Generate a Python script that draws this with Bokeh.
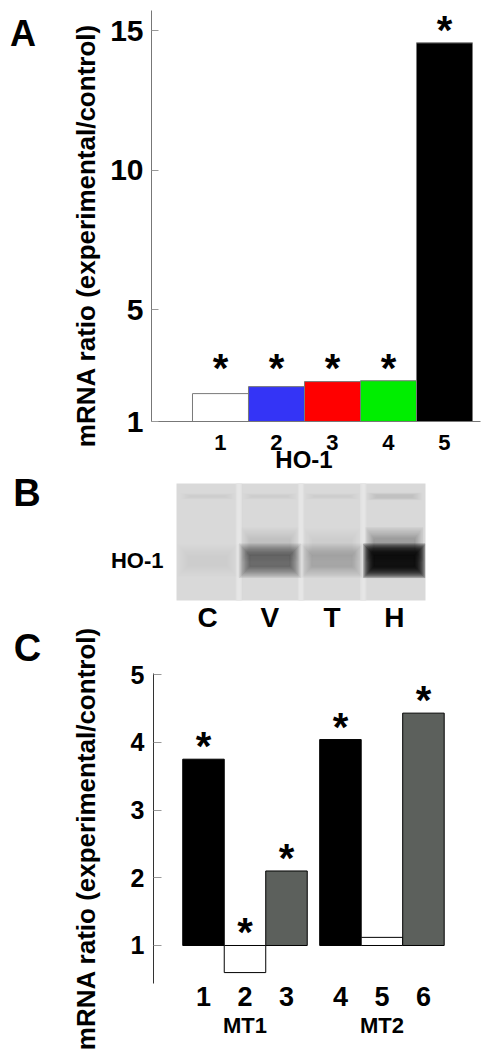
import math
from bokeh.plotting import figure
from bokeh.layouts import column, row
from bokeh.models import FixedTicker, LinearAxis
from bokeh.core.properties import value
from bokeh.embed import file_html
from bokeh.resources import INLINE

FONT = "Liberation Sans"

# ---------------- data ----------------
# Panel A: HO-1 mRNA ratio
a_labels = ["1", "2", "3", "4", "5"]
a_values = [2.0, 2.25, 2.43, 2.46, 14.57]
a_colors = ["#ffffff", "#3434f6", "#ff0000", "#00ee00", "#000000"]
a_sig = [True, True, True, True, True]
a_yticks = [1, 5, 10, 15]
a_gene = "HO-1"

# Panel B: gel (lanes and band darkness)
b_lanes = ["C", "V", "T", "H"]
b_band = [0.05, 0.50, 0.20, 0.92]
b_smear = [0.0, 0.11, 0.05, 0.24]
b_top_band = [0.05, 0.06, 0.06, 0.07]
b_label = "HO-1"

# Panel C: MT1 / MT2 mRNA ratio
c_groups = ["MT1", "MT2"]
c_labels = ["1", "2", "3", "4", "5", "6"]
c_values = [3.75, 0.60, 2.10, 4.04, 1.12, 4.43]
c_colors = ["#000000", "#ffffff", "#5c605c", "#000000", "#ffffff", "#5c605c"]
c_sig = [True, True, True, True, False, True]
c_yticks = [1, 2, 3, 4, 5]

panel_letters = ["A", "B", "C"]
ylab = "mRNA ratio (experimental/control)"

PAGE_W, PAGE_H = 500, 1052
SIDE_W = 106
W = PAGE_W - SIDE_W


def mapx(R, fl, fr, x0, x1):
    return x0 + (R - fl) * (x1 - x0) / (fr - fl)


def style_common(p):
    p.outline_line_color = None
    p.grid.visible = False
    p.background_fill_color = "white"
    p.border_fill_color = "white"
    if "frame_align" in p.properties():
        p.frame_align = False


def bold_axis_labels(ax, size, standoff):
    ax.major_label_text_font = FONT
    ax.major_label_text_font_style = "bold"
    ax.major_label_text_font_size = size
    ax.major_label_text_color = "black"
    ax.major_label_standoff = standoff


def bare_axis(ax):
    ax.axis_line_color = None
    ax.major_tick_line_color = None
    ax.minor_tick_line_color = None


H_A, H_B = 476, 169
H_C = PAGE_H - H_A - H_B
B_TOP, C_TOP = H_A, H_A + H_B

# ---------------- side strip (panel letters and y titles) ----------------
side = figure(width=SIDE_W, height=PAGE_H, x_range=(0, SIDE_W), y_range=(PAGE_H, 0),
              output_backend="svg", toolbar_location=None, min_border=0,
              x_axis_location=None, y_axis_location=None)
style_common(side)
for letter, (lx, ly, fs) in zip(panel_letters, [(22.5, 33, "36px"), (26.5, 492, "38px"), (27, 647, "38px")]):
    side.text(x=[lx], y=[ly], text=[letter], text_font=value(FONT), text_font_style="bold",
              text_font_size=fs, text_align="center", text_baseline="middle", text_color="black")
side.text(x=[85, 85], y=[235, 838], text=[ylab, ylab], angle=math.pi / 2,
          text_font=value(FONT), text_font_style="bold", text_font_size="26px",
          text_align="center", text_baseline="middle", text_color="black")

# ---------------- Panel A ----------------
ax0, ax1 = -0.232, 5.643
ay0, ay1 = 1.0, 15.73
pa = figure(width=W, height=H_A, x_range=(ax0, ax1), y_range=(ay0, ay1),
            output_backend="svg", toolbar_location=None,
            min_border_left=151 - SIDE_W, min_border_right=W - (480 - SIDE_W),
            min_border_top=10, min_border_bottom=H_A - 421)
style_common(pa)
a_x = [i + 1 for i in range(len(a_values))]
pa.vbar(x=a_x, top=a_values, bottom=1, width=1.0, fill_color=a_colors,
        line_color="#7a7a7a", line_width=1)
a_star_base = [max(a_values[:4])] * 4 + [a_values[4]]
sx = [x for x, s in zip(a_x, a_sig) if s]
sy = [y for y, s in zip(a_star_base, a_sig) if s]
pa.text(x=sx, y=sy, text=["*"] * len(sx), text_font=value(FONT), text_font_style="bold",
        text_font_size="40px", text_align="center", text_baseline="alphabetic", y_offset=-13,
        text_color="black")

pa.yaxis.ticker = FixedTicker(ticks=a_yticks)
pa.yaxis.minor_tick_line_color = None
pa.yaxis.major_tick_in = 7
pa.yaxis.major_tick_out = 0
pa.yaxis.major_tick_line_color = "#999999"
pa.yaxis.axis_line_color = "#777777"
bold_axis_labels(pa.yaxis, "30px", 8)

pa.xaxis.ticker = FixedTicker(ticks=a_x)
pa.xaxis.major_label_overrides = {x: l for x, l in zip(a_x, a_labels)}
pa.xaxis.minor_tick_line_color = None
pa.xaxis.major_tick_line_color = None
pa.xaxis.axis_line_color = "#777777"
bold_axis_labels(pa.xaxis, "22px", 7)

gene_x = round(mapx(303.5, 151, 480, ax0, ax1), 3)
ga = LinearAxis(ticker=FixedTicker(ticks=[gene_x]), major_label_overrides={gene_x: a_gene})
bare_axis(ga)
bold_axis_labels(ga, "24px", -13)
pa.add_layout(ga, "below")

# ---------------- Panel B ----------------
pb = figure(width=W, height=H_B, x_range=(0, 4), y_range=(0, 1),
            output_backend="svg", toolbar_location=None,
            min_border_left=176 - SIDE_W, min_border_right=W - (425 - SIDE_W),
            min_border_top=483 - B_TOP, min_border_bottom=H_B - (600 - B_TOP))
style_common(pb)
pb.background_fill_color = "#d9d9d9"
lane_x = [i + 0.5 for i in range(len(b_lanes))]
# light gaps between lanes
pb.vbar(x=[1, 2, 3], top=1, bottom=0, width=0.045, color="#e6e6e6")
pb.vbar(x=[1, 2, 3], top=1, bottom=0, width=0.09, color="#e6e6e6", alpha=0.5)
band_y = 0.34
n_layers = 12
a_top = [1 - (1 - k) ** (1.0 / n_layers) for k in b_top_band]
a_sm = [1 - (1 - k) ** (1.0 / n_layers) for k in b_smear]
a_bd = [1 - (1 - k) ** (1.0 / n_layers) for k in b_band]
for j in range(n_layers):
    s = 1.8 - 0.11 * j
    # faint upper band
    pb.rect(x=lane_x, y=0.89, width=0.8 * (1.12 - 0.035 * j), height=0.035 * s,
            color="black", alpha=a_top)
    # diffuse smear above main band
    pb.rect(x=lane_x, y=0.48, width=0.84 * (1.1 - 0.03 * j), height=0.16 * s,
            color="black", alpha=a_sm)
    # main band
    pb.rect(x=lane_x, y=band_y, width=0.9 * (1.1 - 0.035 * j), height=0.16 * s,
            color="black", alpha=a_bd)

pb.xaxis.ticker = FixedTicker(ticks=lane_x)
pb.xaxis.major_label_overrides = {x: l for x, l in zip(lane_x, b_lanes)}
bare_axis(pb.xaxis)
bold_axis_labels(pb.xaxis, "28px", -5)

pb.yaxis.ticker = FixedTicker(ticks=[band_y])
pb.yaxis.major_label_overrides = {band_y: b_label}
bare_axis(pb.yaxis)
bold_axis_labels(pb.yaxis, "22px", 7)

# ---------------- Panel C ----------------
cx0, cx1 = -0.2048, 7.434
cy0, cy1 = 0.439, 5.015
pc = figure(width=W, height=H_C, x_range=(cx0, cx1), y_range=(cy0, cy1),
            output_backend="svg", toolbar_location=None,
            min_border_left=153 - SIDE_W, min_border_right=W - (470 - SIDE_W),
            min_border_top=673 - C_TOP, min_border_bottom=H_C - (983 - C_TOP))
style_common(pc)
per_group = len(c_labels) // len(c_groups)
c_x = [round(1 + (i % per_group) + (i // per_group) * (per_group + 0.3), 2)
       for i in range(len(c_values))]
pc.vbar(x=c_x, top=c_values, bottom=1, width=1.0, fill_color=c_colors,
        line_color="black", line_width=1)
c_star_base = [max(v, 1.0) for v in c_values]
sx = [x for x, s in zip(c_x, c_sig) if s]
sy = [y for y, s in zip(c_star_base, c_sig) if s]
pc.text(x=sx, y=sy, text=["*"] * len(sx), text_font=value(FONT), text_font_style="bold",
        text_font_size="40px", text_align="center", text_baseline="alphabetic", y_offset=-13,
        text_color="black")

pc.yaxis.ticker = FixedTicker(ticks=c_yticks)
pc.yaxis.minor_tick_line_color = None
pc.yaxis.major_tick_in = 8
pc.yaxis.major_tick_out = 0
pc.yaxis.major_tick_line_color = "#999999"
pc.yaxis.axis_line_color = "#333333"
bold_axis_labels(pc.yaxis, "25px", 9)

pc.xaxis.ticker = FixedTicker(ticks=c_x)
pc.xaxis.major_label_overrides = {x: l for x, l in zip(c_x, c_labels)}
bare_axis(pc.xaxis)
bold_axis_labels(pc.xaxis, "27px", -3)

g_x = [round(sum(c_x[g * per_group:(g + 1) * per_group]) / per_group, 3) for g in range(len(c_groups))]
gc = LinearAxis(ticker=FixedTicker(ticks=g_x), major_label_overrides={x: n for x, n in zip(g_x, c_groups)})
bare_axis(gc)
bold_axis_labels(gc, "22px", -2)
pc.add_layout(gc, "below")

charts = column(pa, pb, pc, spacing=0)
layout = row(side, charts, spacing=0)
open("out.html", "w").write(file_html(layout, INLINE))
